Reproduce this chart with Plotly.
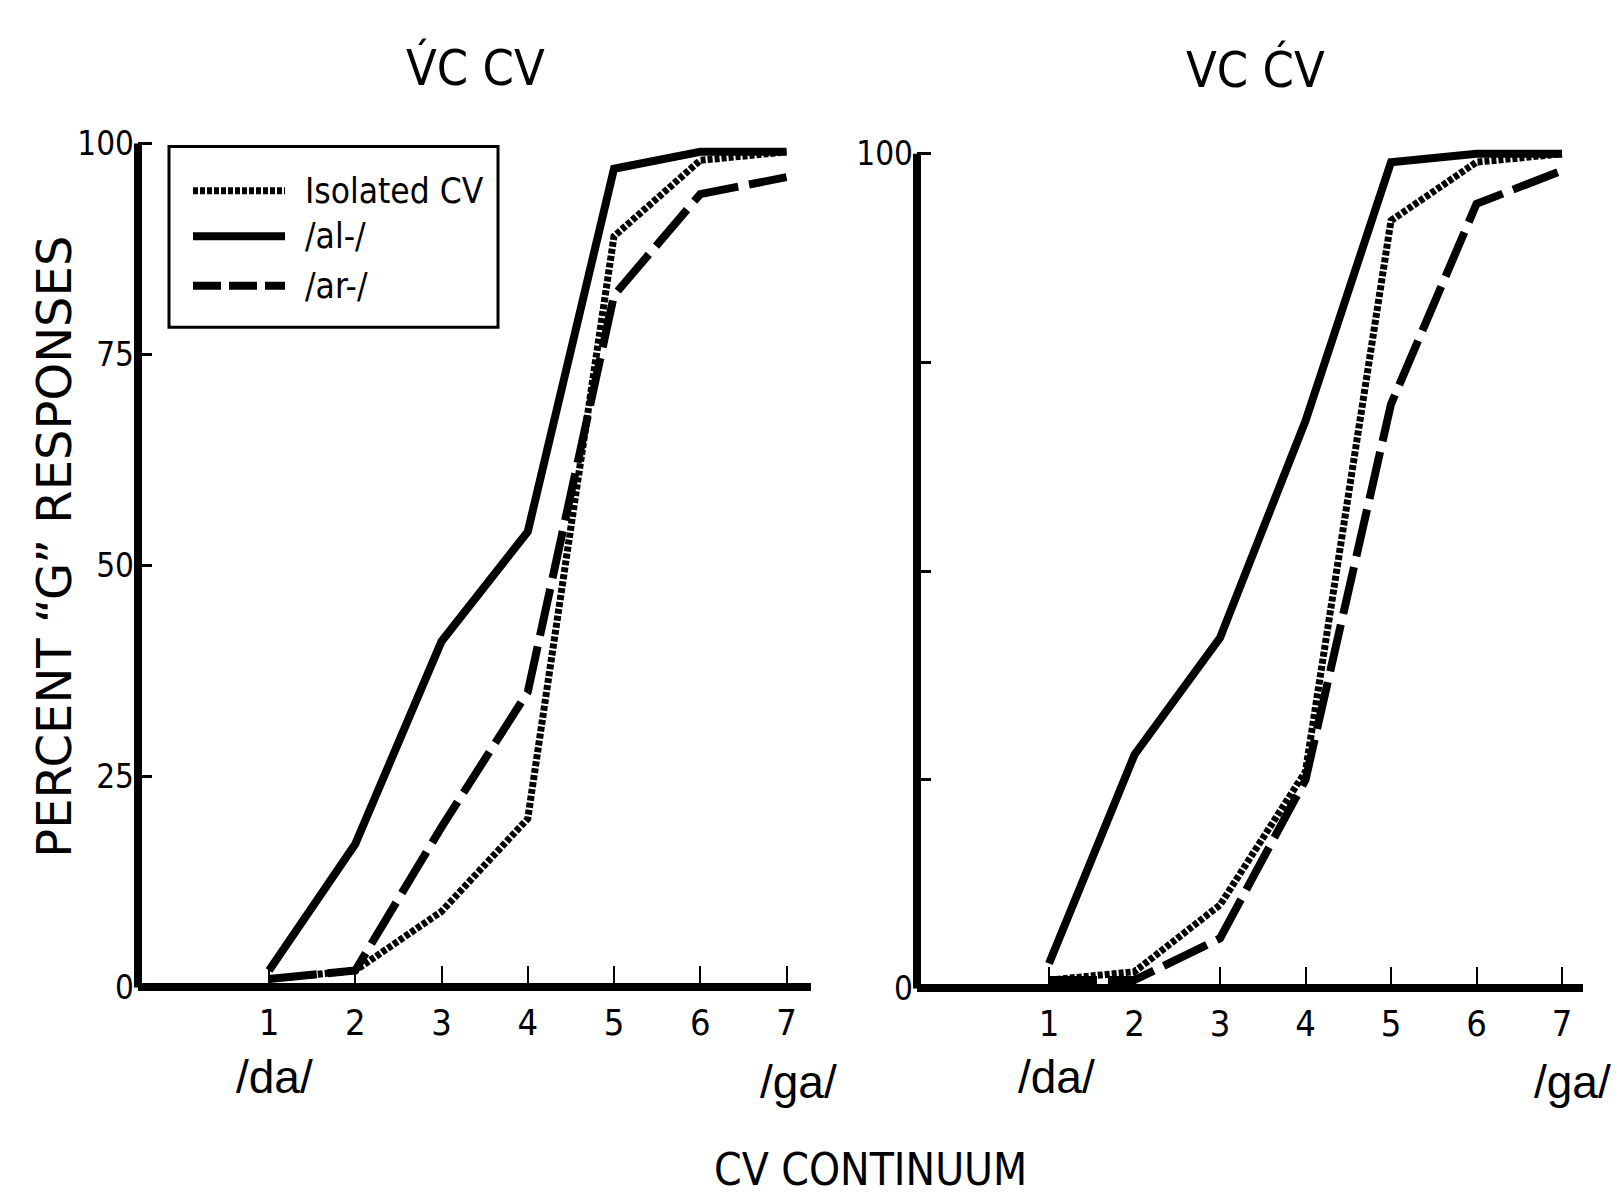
import plotly.graph_objects as go

W, H = 1619, 1199

# ---------------- data ----------------
steps = [1, 2, 3, 4, 5, 6, 7]
step_labels = ["1", "2", "3", "4", "5", "6", "7"]
y_ticks = [0, 25, 50, 75, 100]
left_y_labels = ["0", "25", "50", "75", "100"]
right_y_labels = ["0", "", "", "", "100"]

series_names = ["Isolated CV", "/al-/", "/ar-/"]

left_isolated = [1, 2, 9, 20, 89, 98, 99]
left_al = [2, 17, 41, 54, 97, 99, 99]
left_ar = [1, 2, 19, 35, 82, 94, 96]

right_isolated = [1, 2, 10, 26, 92, 99, 100]
right_al = [3, 28, 42, 68, 99, 100, 100]
right_ar = [1, 1, 6, 25, 70, 94, 98]

left_title = "V\u0301C CV"
right_title = "VC C\u0301V"
y_title = "PERCENT \u201cG\u201d RESPONSES"
x_title = "CV CONTINUUM"
end_left = "/da/"
end_right = "/ga/"

# ---------------- styles ----------------
NARROW = "Liberation Sans Narrow, DejaVu Sans Condensed, Arial Narrow, sans-serif"
SANS = "DejaVu Sans, Liberation Sans, sans-serif"
INK = "#000000"
LW = 8
styles = {
    "Isolated CV": dict(dash="5px,2px", width=7),
    "/al-/": dict(dash="solid", width=LW),
    "/ar-/": dict(dash="48px,11px", width=LW),
}


def px_x(p):
    return p / W


def px_y(p):
    return 1 - p / H


fig = go.Figure()

# panel geometry in pixels: axis left/right, step-1 & step-7 positions, y of 0 and 100
panels = [
    dict(xa="x", ya="y", data=[left_isolated, left_al, left_ar],
         xl=130, xr=803, one=261, seven=778.5, y0=988, y100=134, labels=left_y_labels),
    dict(xa="x2", ya="y2", data=[right_isolated, right_al, right_ar],
         xl=909, xr=1575, one=1041, seven=1554, y0=989, y100=144.5, labels=right_y_labels),
]

for p in panels:
    for name, vals in zip(series_names, p["data"]):
        st = styles[name]
        fig.add_trace(go.Scatter(
            x=steps, y=vals, mode="lines", name=name, showlegend=False,
            xaxis=p["xa"], yaxis=p["ya"],
            line=dict(color=INK, width=st["width"], dash=st["dash"]),
        ))

YMIN, YMAX = -1, 102
shapes = []
layout_axes = {}
for i, p in enumerate(panels):
    ppu = (p["y0"] - p["y100"]) / 100.0
    bottom = p["y0"] + (0 - YMIN) * ppu
    top = p["y100"] - (YMAX - 100) * ppu
    sp = (p["seven"] - p["one"]) / 6
    xmin = 1 - (p["one"] - p["xl"]) / sp
    xmax = 7 + (p["xr"] - p["seven"]) / sp
    suffix = "" if i == 0 else "2"
    layout_axes["xaxis" + suffix] = dict(
        domain=[px_x(p["xl"]), px_x(p["xr"])], range=[xmin, xmax],
        anchor="free", position=px_y(p["y0"]),
        showline=True, linewidth=LW, linecolor=INK,
        tickvals=steps, ticktext=step_labels,
        ticks="inside", ticklen=17, tickwidth=2, tickcolor=INK,
        ticklabelstandoff=0,
        tickfont=dict(family=NARROW, size=36, color=INK),
        showgrid=False, zeroline=False, fixedrange=True,
    )
    layout_axes["yaxis" + suffix] = dict(
        domain=[px_y(bottom), px_y(top)], range=[YMIN, YMAX],
        anchor=p["xa"],
        showline=False,
        tickvals=y_ticks, ticktext=p["labels"],
        ticks="inside", ticklen=14, tickwidth=3, tickcolor=INK,
        ticklabelstandoff=3,
        tickfont=dict(family=NARROW, size=33, color=INK),
        showgrid=False, zeroline=False, fixedrange=True,
    )
    shapes.append(dict(
        type="line", xref=p["xa"] + " domain", yref=p["ya"],
        x0=0, x1=0, y0=0, y1=100,
        line=dict(color=INK, width=LW),
    ))

# legend box (drawn manually to mimic the original)
box = dict(l=161, r=490, t=137, b=320)
shapes.append(dict(type="rect", xref="paper", yref="paper",
                   x0=px_x(box["l"]), x1=px_x(box["r"]),
                   y0=px_y(box["b"]), y1=px_y(box["t"]),
                   line=dict(color=INK, width=3), fillcolor="rgba(0,0,0,0)"))
legend_rows = [182, 228, 278]
annotations = []
for name, ry in zip(series_names, legend_rows):
    st = styles[name]
    shapes.append(dict(type="line", xref="paper", yref="paper",
                       x0=px_x(185), x1=px_x(277), y0=px_y(ry), y1=px_y(ry),
                       line=dict(color=INK, width=st["width"],
                                 dash=("28px,8px" if name == "/ar-/" else st["dash"]))))
    annotations.append(dict(xref="paper", yref="paper", x=px_x(295), y=px_y(ry),
                            xanchor="left", yanchor="middle", showarrow=False,
                            text=name, font=dict(family=NARROW, size=35, color=INK)))

# titles and labels
annotations += [
    dict(xref="paper", yref="paper", x=px_x(467), y=px_y(57), text=left_title,
         showarrow=False, xanchor="center", yanchor="middle",
         font=dict(family=NARROW, size=50, color=INK)),
    dict(xref="paper", yref="paper", x=px_x(1247), y=px_y(59), text=right_title,
         showarrow=False, xanchor="center", yanchor="middle",
         font=dict(family=NARROW, size=50, color=INK)),
    dict(xref="paper", yref="paper", x=px_x(46), y=px_y(542), text=y_title,
         showarrow=False, textangle=-90, xanchor="center", yanchor="middle",
         font=dict(family=SANS, size=48, color=INK)),
    dict(xref="paper", yref="paper", x=px_x(862), y=px_y(1172), text=x_title,
         showarrow=False, xanchor="center", yanchor="middle",
         font=dict(family=NARROW, size=44, color=INK)),
]
for cx, cy, text in [(266, 1079, end_left), (790, 1084, end_right),
                     (1048, 1079, end_left), (1564, 1084, end_right)]:
    annotations.append(dict(xref="paper", yref="paper", x=px_x(cx), y=px_y(cy),
                            text=text, showarrow=False, xanchor="center",
                            yanchor="middle",
                            font=dict(family="Liberation Sans, sans-serif", size=46, color=INK)))

fig.update_layout(
    width=W, height=H,
    margin=dict(l=0, r=0, t=0, b=0),
    paper_bgcolor="white", plot_bgcolor="white",
    showlegend=False,
    shapes=shapes, annotations=annotations,
    **layout_axes,
)

fig.write_html("out.html")
